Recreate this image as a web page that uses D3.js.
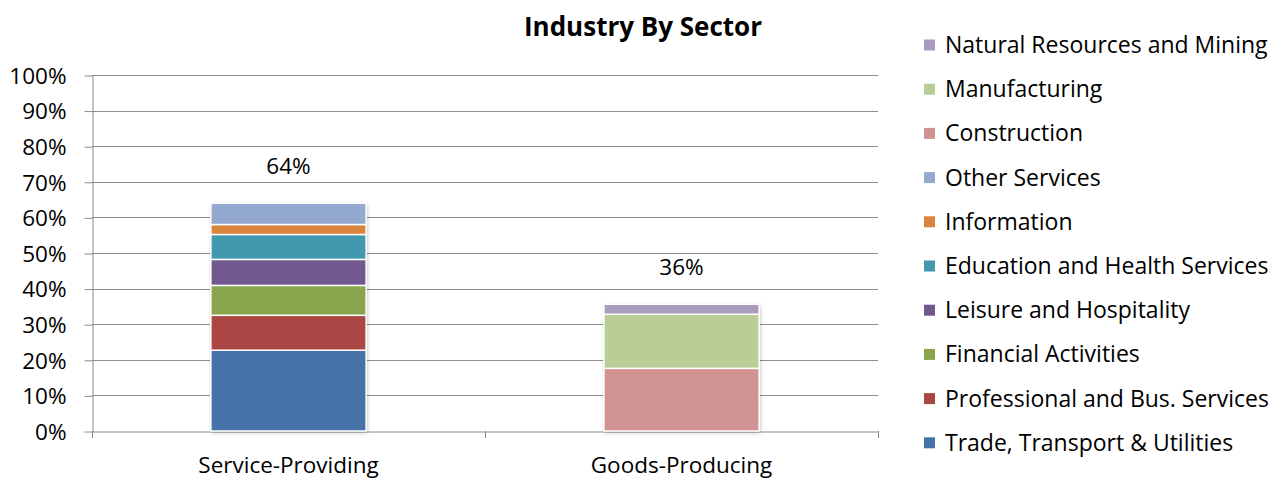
<!DOCTYPE html>
<html>
<head>
<meta charset="utf-8">
<script src="https://cdn.jsdelivr.net/npm/d3@7"></script>
<style>
  html, body { margin: 0; padding: 0; background: #fff; }
  svg text { font-family: "Open Sans", sans-serif; fill: #000; }
</style>
</head>
<body>
<svg id="chart" width="1281" height="481"></svg>
<script>
// Categories on the x axis
const categories = ["Service-Providing", "Goods-Producing"];

// Industry series (stack order bottom to top) and their share in each category, %
const seriesNames = [
  "Trade, Transport & Utilities",
  "Professional and Bus. Services",
  "Financial Activities",
  "Leisure and Hospitality",
  "Education and Health Services",
  "Information",
  "Other Services",
  "Construction",
  "Manufacturing",
  "Natural Resources and Mining"
];
const serviceValues = [22.7, 9.8, 8.4, 7.3, 7.0, 2.8, 6.0, 0, 0, 0];
const goodsValues   = [0, 0, 0, 0, 0, 0, 0, 17.6, 15.2, 2.8];
const seriesColors = [
  "#4572A7", "#AA4643", "#89A54E", "#71588F", "#4198AF",
  "#DB843D", "#93A9CF", "#D19392", "#B9CD96", "#A99BBD"
];
const yTicks = [0, 10, 20, 30, 40, 50, 60, 70, 80, 90, 100];
const titleText = "Industry By Sector";

const svg = d3.select("#chart");
const plot = { left: 92, right: 878, top: 75, bottom: 431 };
const fontSize = 22.5;

// Build a row per category for d3.stack
const rows = categories.map((c, i) => {
  const vals = i === 0 ? serviceValues : goodsValues;
  const row = { category: c };
  seriesNames.forEach((s, j) => row[s] = vals[j]);
  return row;
});
const stacked = d3.stack().keys(seriesNames)(rows);
const total = d => d3.sum(seriesNames, s => d[s]);

const x = d3.scaleBand().domain(categories).range([plot.left, plot.right]).paddingInner(0.605).paddingOuter(0.3025);
const y = d3.scaleLinear().domain([0, 100]).range([plot.bottom, plot.top]);
const color = d3.scaleOrdinal().domain(seriesNames).range(seriesColors);

// Soft shadow around the bars
const defs = svg.append("defs");
const f = defs.append("filter").attr("id", "shadow").attr("x", "-10%").attr("y", "-10%").attr("width", "120%").attr("height", "120%");
f.append("feDropShadow").attr("dx", 1).attr("dy", 1.5).attr("stdDeviation", 2).attr("flood-color", "#000").attr("flood-opacity", 0.28);

// Gridlines
svg.append("g")
  .selectAll("line").data(yTicks.filter(d => d > 0)).join("line")
  .attr("x1", plot.left).attr("x2", plot.right)
  .attr("y1", d => Math.round(y(d)) + 0.5).attr("y2", d => Math.round(y(d)) + 0.5)
  .attr("stroke", "#8c8c8c").attr("stroke-width", 1);

// Y axis
const yAxis = d3.axisLeft(y).tickValues(yTicks).tickFormat(d => d + "%").tickSizeInner(8).tickSizeOuter(0).tickPadding(18);
const gy = svg.append("g").attr("transform", `translate(${plot.left + 0.5},0.5)`).call(yAxis);
gy.select(".domain").attr("stroke", "#8c8c8c");
gy.selectAll(".tick line").attr("stroke", "#8c8c8c");
gy.selectAll(".tick text").style("font-size", fontSize + "px").attr("dy", "0.35em");

// X axis
const xAxis = d3.axisBottom(x).tickSize(0).tickPadding(26);
const gx = svg.append("g").attr("transform", `translate(0,${plot.bottom + 0.5})`).call(xAxis);
gx.select(".domain").attr("stroke", "#8c8c8c");
gx.selectAll(".tick text").style("font-size", fontSize + "px");
// category separators on the x axis
const step = x.step();
svg.append("g").selectAll("line").data(d3.range(categories.length + 1)).join("line")
  .attr("x1", i => Math.round(plot.left + i * step) + 0.5)
  .attr("x2", i => Math.round(plot.left + i * step) + 0.5)
  .attr("y1", plot.bottom).attr("y2", plot.bottom + 7)
  .attr("stroke", "#8c8c8c");

// Stacked bars
const barG = svg.append("g");
// shadow layer under the whole stack
barG.selectAll("rect.bg").data(rows).join("rect").attr("class", "bg")
  .attr("x", d => x(d.category))
  .attr("width", x.bandwidth())
  .attr("y", d => y(total(d)))
  .attr("height", d => y(0) - y(total(d)))
  .attr("fill", "#fff")
  .attr("filter", "url(#shadow)");
barG.selectAll("g.layer").data(stacked).join("g").attr("class", "layer")
  .attr("fill", d => color(d.key))
  .selectAll("rect").data(d => d.filter(p => p[1] - p[0] > 0)).join("rect")
  .attr("x", d => x(d.data.category))
  .attr("width", x.bandwidth())
  .attr("y", d => y(d[1]))
  .attr("height", d => y(d[0]) - y(d[1]))
  .attr("stroke", "#fff").attr("stroke-width", 1.5);

// Total labels above each bar
svg.append("g").selectAll("text").data(rows).join("text")
  .attr("x", d => x(d.category) + x.bandwidth() / 2)
  .attr("y", d => y(total(d)) - 37)
  .attr("text-anchor", "middle").attr("dy", "0.35em")
  .style("font-size", fontSize + "px")
  .text(d => Math.round(total(d)) + "%");

// Title
svg.append("text").attr("x", 643).attr("y", 27).attr("dy", "0.35em")
  .attr("text-anchor", "middle").style("font-size", "26px").style("font-weight", "bold")
  .text(titleText);

// Legend (top to bottom = reverse stack order)
const legendItems = seriesNames.slice().reverse();
const lg = svg.append("g").selectAll("g").data(legendItems).join("g")
  .attr("transform", (d, i) => `translate(924,${45 + i * 44.2})`);
lg.append("rect").attr("x", 0).attr("y", -5.5).attr("width", 11).attr("height", 11).attr("fill", d => color(d));
lg.append("text").attr("x", 21).attr("dy", "0.35em").style("font-size", "23px").text(d => d);
</script>
</body>
</html>
